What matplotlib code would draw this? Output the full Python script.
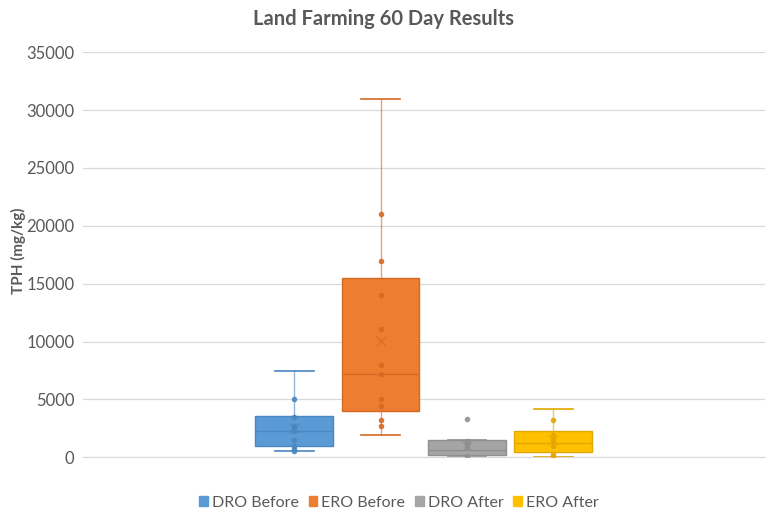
import numpy as np
import matplotlib.pyplot as plt
from matplotlib.patches import Patch

plt.rcParams['font.family'] = ['Lato', 'DejaVu Sans']

# series and their box statistics (mg/kg)
series = ['DRO Before', 'ERO Before', 'DRO After', 'ERO After']
colors = ['#5B9BD5', '#ED7D31', '#A5A5A5', '#FFC000']
edges = ['#4A86BF', '#D46A22', '#8F8F8F', '#E0A800']
whislo = [545, 1900, 25, 0]
q1 = [950, 4000, 230, 460]
med = [2250, 7230, 665, 1270]
q3 = [3600, 15500, 1470, 2250]
whishi = [7430, 31000, 1530, 4150]
means = [2500, 10050, 1000, 1450]
points = [
    [5040, 3480, 2740, 2480, 2250, 1470, 950, 720, 545],
    [21000, 17000, 14000, 11040, 8010, 7230, 4990, 4410, 3200, 2680],
    [3340, 1400, 1150, 900, 120],
    [3200, 1900, 1470, 950, 320, 0],
]

fig = plt.figure(figsize=(7.67, 5.12), dpi=100)
ax = fig.add_axes([0.108, 0.107, 0.889, 0.791])

pos = np.arange(1, len(series) + 1)
for i, name in enumerate(series):
    st = dict(label=name, whislo=whislo[i], q1=q1[i], med=med[i],
              q3=q3[i], whishi=whishi[i], mean=means[i], fliers=[])
    ax.bxp([st], positions=[pos[i]], widths=0.9, patch_artist=True,
           showmeans=True, showcaps=True,
           boxprops=dict(facecolor=colors[i], edgecolor=edges[i], linewidth=1),
           medianprops=dict(color=edges[i], linewidth=1),
           whiskerprops=dict(color=edges[i], linewidth=1, alpha=0.6),
           capprops=dict(color=edges[i], linewidth=1.2),
           meanprops=dict(marker='x', markeredgecolor=edges[i], markersize=7,
                          markeredgewidth=1, alpha=0.7),
           capwidths=0.45, zorder=3)
    ax.scatter([pos[i]] * len(points[i]), points[i], s=9, color=edges[i],
               edgecolor=edges[i], alpha=0.85, zorder=4)

ax.set_xlim(-1.45, 6.45)
ax.set_ylim(0, 35000)
ax.set_yticks(np.arange(0, 35001, 5000))
ax.set_xticks([])
ax.grid(axis='y', color='#D9D9D9', linewidth=0.9)
ax.set_axisbelow(True)
for s in ['top', 'right', 'left']:
    ax.spines[s].set_visible(False)
ax.spines['bottom'].set_color('#D9D9D9')
ax.tick_params(axis='y', length=0, labelsize=12, labelcolor='#595959', pad=6)

fig.text(0.024, 0.51, 'TPH (mg/kg)', rotation=90, ha='center', va='center',
         fontsize=11, color='#595959', fontweight='bold')
fig.text(0.5, 0.962, 'Land Farming 60 Day Results', ha='center', va='center',
         fontsize=14.5, fontweight='bold', color='#595959')

handles = [Patch(facecolor=c, edgecolor=c) for c in colors]
fig.legend(handles, series, loc='center', bbox_to_anchor=(0.52, 0.018),
           ncol=4, frameon=False, fontsize=11.5, handlelength=0.55,
           handleheight=0.55, handletextpad=0.25, columnspacing=0.6,
           labelcolor='#595959')

fig.savefig('out.png', dpi=100)
